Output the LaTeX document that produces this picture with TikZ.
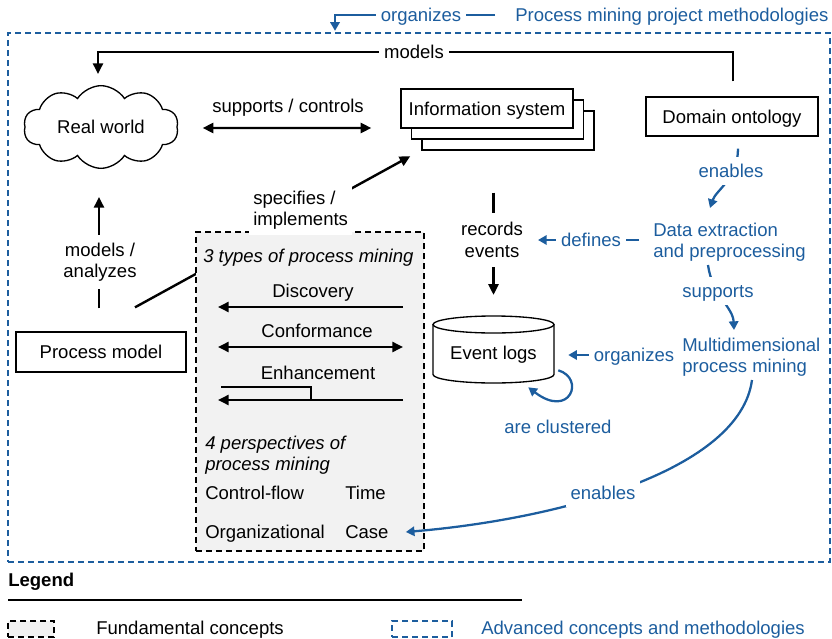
\documentclass[tikz,border=0pt]{standalone}
\usepackage{fontspec}
\setmainfont{Liberation Sans}
\usetikzlibrary{arrows.meta,shapes.symbols,calc}
\definecolor{pmblue}{RGB}{28,93,158}
\definecolor{fundgray}{RGB}{242,242,242}
\newcommand\fs{\fontsize{13.9}{16}\selectfont}
\pgfdeclarelayer{edges}
\pgfsetlayers{edges,main}
\begin{document}
\begin{tikzpicture}[x=0.75pt,y=-0.75pt,
  every node/.style={font=\fs, inner sep=0pt},
  txt/.style={text height=12pt, text depth=2pt},
  box/.style={draw, line width=1pt, fill=white, minimum width=129pt, minimum height=29.25pt, txt},
  arr/.style={line width=1.8pt, -{Triangle[length=8pt,width=7.5pt]}},
  darr/.style={line width=1.8pt, {Triangle[length=8pt,width=7.5pt]}-{Triangle[length=8pt,width=7.5pt]}},
  barr/.style={pmblue, line width=1.7pt, -{Triangle[length=6.5pt,width=7pt]}},
  lbl/.style={fill=white, inner sep=3.5pt, txt},
  mlbl/.style={fill=white, inner xsep=3pt, inner ysep=6pt, align=center},
  blbl/.style={lbl, text=pmblue},
  fdash/.style={dash pattern=on 4.5pt off 3pt},
]
\useasboundingbox (0,0) rectangle (832,639);

% frame of the project methodologies
\node[draw=pmblue, line width=1pt, fdash, minimum width=616.5pt, minimum height=396.75pt] (adv) at (419,297.5) {};
\node[anchor=west, text=pmblue, txt] (pmpm) at (515,15) {Process mining project methodologies};

% main concepts
\node[cloud, draw, line width=1pt, cloud puffs=10, cloud puff arc=115, cloud ignores aspect,
      minimum width=116pt, minimum height=62pt, txt] (rw) at (101,127) {Real world};
\node[box] (is3) at (508,130.5) {};
\node[box] (is2) at (497.5,119.5) {};
\node[box] (is) at (487,108.5) {Information system};
\node[box] (dom) at (732,116.5) {Domain ontology};
\node[box, minimum width=127.5pt, minimum height=30pt] (pm) at (101,352) {Process model};

% event log cylinder
\draw[line width=1pt, fill=white] (433,324.5) -- (433,374.5)
  arc[start angle=180, end angle=360, x radius=45.375pt, y radius=6.375pt] -- (554,324.5);
\draw[line width=1pt, fill=white] (493.5,324.5) ellipse [x radius=45.375pt, y radius=6.375pt];
\node[minimum width=90.75pt, minimum height=50pt, txt] (el) at (493.5,353) {Event logs};

% advanced concepts
\node[anchor=west, align=left, text=pmblue] (dex) at (653,242) {Data extraction\\and preprocessing};
\node[anchor=west, align=left, text=pmblue] (mpm) at (682,357) {Multidimensional\\process mining};

% fundamental concepts
\node[draw, fdash, line width=1pt, fill=fundgray, minimum width=171pt, minimum height=239.25pt] (fund) at (310,391.5) {};
\node[anchor=west, font=\fs\itshape, txt] (t3) at (203,256) {3 types of process mining};
\node[txt] (disc) at (313,291) {Discovery};
\node[txt] (conf) at (317,331) {Conformance};
\node[txt] (enh) at (318,373) {Enhancement};
\node[anchor=west, font=\fs\itshape, align=left] (p4) at (205,455) {4 perspectives of\\process mining};
\node[anchor=west, txt] (cf) at (205,493) {Control-flow};
\node[anchor=west, txt] (time) at (345,493) {Time};
\node[anchor=west, txt] (org) at (205,532) {Organizational};
\node[anchor=west, txt] (case) at (345,532) {Case};

\coordinate (dR) at (403,307); \coordinate (dL) at (218,307);
\coordinate (cR) at (403,347); \coordinate (cL) at (218,347);
\coordinate (eR) at (403,400); \coordinate (eL) at (218,400);
\draw[arr] (dR) -- (dL);
\draw[darr] (cL) -- (cR);
\draw[arr] (eR) -- (eL);
\draw[line width=1pt] (221,387) -| (311,400);

% connector from the multidimensional view to the perspectives, on top of the grey box
\draw[barr] ($(mpm.west)+(70,23)$) .. controls +(-12,90) and +(155,-13) .. ($(case.east)+(17,0)$);

% labels of the connectors
\node[blbl] (lorg) at (421,15) {organizes};
\node[lbl] (lmod) at (414,52) {models};
\node[txt] (lsup) at (288,106) {supports / controls};
\node[mlbl, align=left, anchor=west, inner ysep=4pt] (lspec) at (249,210) {specifies /\\implements};
\node[mlbl] (lana) at (100,262) {models /\\analyzes};
\node[mlbl, inner ysep=7pt] (lrec) at (492,240) {records\\events};
\node[blbl] (len1) at (731,171) {enables};
\node[blbl] (ldef) at (591,240) {defines};
\node[blbl] (lsupp) at (718,291) {supports};
\node[blbl] (lorg2) at (634,355) {organizes};
\node[text=pmblue, txt] (lclu) at (558,427) {are clustered};
\node[blbl] (len2) at (603,493) {enables};

% connectors
\begin{pgfonlayer}{edges}
\draw[barr] ($(pmpm.west)+(-20,0)$) -| ($(adv.north)+(-84,-1.5)$);
\draw[arr] ($(dom.north)+(1,-15)$) |- (lmod.center) -| ($(rw.north)+(-3,-11)$);
\draw[darr] ($(rw.east)+(25,1)$) -- ($(is.west)+(-29,19.5)$);
\draw[arr] ($(pm.north)+(34,-24)$) -- ($(is.south west)+(10,27.5)$);
\draw[arr] ($(pm.north)+(-2,-23)$) -- ($(rw.south)+(-2,28)$);
\draw[arr] ($(el.north |- is3.south)+(0,42)$) -- ($(el.north)+(0,-24.5)$);
\draw[barr] ($(dom.south)+(6,12)$) .. controls +(0,30) and +(6,-18) .. ($(dex.west)+(57,-34)$);
\draw[barr] ($(dex.west)+(-14,-2)$) -- ($(dex.west)+(-115,-2)$);
\draw[barr] ($(dex.west)+(55,23)$) .. controls +(4,30) and +(-1,-23) .. ($(mpm.west)+(52,-27)$);
\draw[barr] ($(mpm.west)+(-6,-2)$) -- ($(el.east)+(14,2)$);
\draw[barr] ($(el.south east)+(4,-16.3)$) .. controls +(27,8) and +(42,32) .. ($(el.south east)+(-26,0.7)$);
\end{pgfonlayer}

% legend
\node[anchor=west, font=\fs\bfseries, txt] (leg) at (8,580) {Legend};
\draw[line width=1pt] (8,600) -- (522,600);
\node[draw, fdash, fill=fundgray, line width=1pt, minimum width=34.5pt, minimum height=12pt] (lg1) at (31,629) {};
\node[anchor=west, txt] (lg1t) at (96,628) {Fundamental concepts};
\node[draw=pmblue, fdash, line width=1pt, minimum width=45pt, minimum height=12pt] (lg2) at (422,629) {};
\node[anchor=west, txt, text=pmblue] (lg2t) at (481,628) {Advanced concepts and methodologies};
\end{tikzpicture}
\end{document}
